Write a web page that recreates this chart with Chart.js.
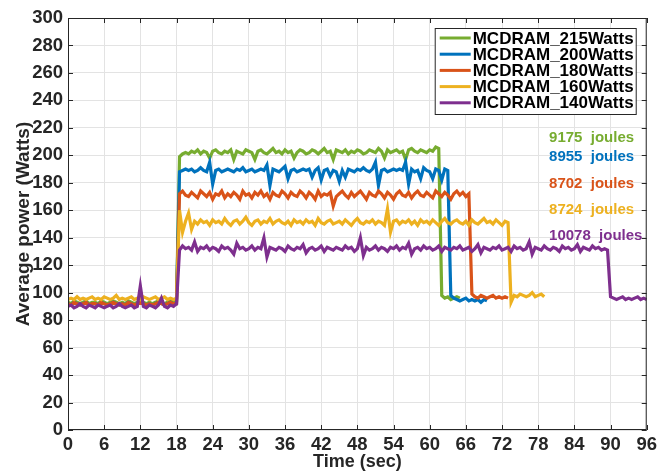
<!DOCTYPE html>
<html>
<head>
<meta charset="utf-8">
<script src="https://cdn.jsdelivr.net/npm/chart.js@4.4.1/dist/chart.umd.min.js"></script>
<style>
  html, body { margin: 0; padding: 0; background: #fff; }
</style>
</head>
<body>
<canvas id="c" width="661" height="474"></canvas>
<script>
// sampled power traces, one value every STEP seconds starting at t = 0
const STEP = 0.5;
const seriesNames = ['MCDRAM_215Watts', 'MCDRAM_200Watts', 'MCDRAM_180Watts', 'MCDRAM_160Watts', 'MCDRAM_140Watts'];
const seriesColors = ['#77AC30', '#0072BD', '#D95319', '#EDB120', '#7E2F8E'];

const watts215 = [
  93,92,94,93,92,93,94,92,93,93, 92,94,93,92,93,94,93,92,93,92,
  94,93,92,93,94,93,92,93,92,93, 94,93,92,93,94,93,94,
  199,201,202,
  201,203,202,204,201,203,202,198,203,204, 202,201,203,202,204,197,203,202,201,204,
  203,202,197,203,204,202,201,203,205,202, 203,201,204,202,203,198,202,204,203,201,
  202,204,203,201,203,205,202,203,197,204, 203,202,204,201,203,202,204,203,201,202,
  204,203,202,205,203,198,204,202,203,204, 202,203,197,204,205,203,202,204,203,202,
  204,203,206,205,
  98,96,97,95,96,97,96
];
const watts200 = [
  92,91,93,92,91,92,93,91,92,92, 91,93,92,91,92,93,92,91,92,91,
  93,92,91,92,93,92,91,92,91,92, 93,92,91,92,93,92,92,
  188,189,190,
  189,190,188,189,191,189,188,195,179,189, 190,188,189,190,189,188,190,189,191,188,
  189,190,188,189,190,189,193,178,190,189, 188,190,192,183,189,190,188,189,190,189,
  190,184,189,191,182,189,190,185,189,188, 181,189,184,190,189,188,190,189,191,189,
  188,190,195,178,189,190,188,189,190,189, 190,189,195,179,190,188,189,183,191,189,
  188,183,190,189,182,190,189,
  98,96,95,94,95,96,94,95,94,95,93,95,94
];
const watts180 = [
  92,91,93,92,91,92,93,91,92,92, 91,93,92,91,92,93,92,91,92,91,
  93,92,91,92,93,92,91,92,91,92, 93,92,91,92,93,92,92,
  172,174,171,
  170,173,171,169,174,172,170,173,168,172, 171,174,169,172,170,173,171,168,174,171,
  172,169,173,171,174,170,172,168,173,171, 170,174,172,169,173,171,170,174,172,169,
  173,171,168,174,170,172,171,173,163,170, 172,174,171,169,173,170,172,174,171,168,
  173,171,170,174,172,169,173,171,168,172, 174,171,170,173,169,172,174,171,170,173,
  171,169,174,172,170,173,171,168,172,174, 171,173,170,172,
  99,97,96,98,97,96,97,98,96,97,96,97,96
];
const watts160 = [
  95,96,95,97,95,96,95,96,97,95, 96,95,97,96,95,96,98,95,96,95,
  96,97,95,96,95,97,96,95,96,97, 95,96,97,95,96,95,96,
  160,144,152,
  158,146,152,150,153,151,152,149,153,151, 152,150,154,151,149,152,153,150,152,155,
  151,149,152,153,150,152,151,154,150,152, 153,151,150,152,149,153,151,152,150,153,
  151,152,149,154,151,150,152,153,150,151, 152,150,153,151,149,152,154,151,150,152,
  151,153,150,152,151,149,161,144,152,153, 150,152,151,153,150,152,149,153,151,152,
  150,153,151,149,152,154,151,150,152,153, 151,150,152,149,153,151,150,152,154,151,
  152,150,153,151,149,152,151,
  93,98,97,99,98,97,98,100,97,98,99,97
];
const watts140 = [
  90,91,89,90,92,90,89,91,90,89, 91,90,89,90,91,89,90,92,90,89,
  90,91,89,90,105,90,89,91,90,89, 91,96,90,89,91,90,92,
  131,134,132,
  133,131,137,130,133,132,134,131,133,132, 130,134,132,133,131,128,136,132,133,131,
  132,134,131,133,132,140,126,133,132,131, 133,132,130,134,132,131,133,132,135,129,
  132,133,131,132,134,130,133,132,131,133, 132,131,134,132,133,130,132,140,127,133,
  131,132,134,131,133,132,130,133,132,134, 131,133,132,136,128,132,133,131,134,132,
  133,131,132,134,130,133,132,131,133,132, 134,131,132,133,130,132,135,129,133,132,
  131,133,132,134,131,132,133,130,134,132, 133,131,132,137,128,133,132,131,134,132,
  131,133,132,130,134,132,133,131,132,135, 130,133,132,131,134,132,133,131,132,131,
  97,96,95,96,97,95,96,95,96,97,95,96,95
];
const allSeries = [watts215, watts200, watts180, watts160, watts140];

// energy labels, placed in data units
const joulesText = ['9175  joules', '8955  joules', '8702  joules', '8724  joules', '10078  joules'];
const joulesY = [213, 199, 179.5, 160.5, 141.5];
const joulesX = 79.8;

const xTicks = { min: 0, max: 96, step: 6 };
const yTicks = { min: 0, max: 300, step: 20 };

const TXT = '#262626';
const FONT = '"Liberation Sans", Arial, Helvetica, sans-serif';

function toPoints(arr) { return arr.map((v, i) => ({ x: i * STEP, y: v })); }

const datasets = allSeries.map((arr, k) => ({
  label: seriesNames[k],
  data: toPoints(arr),
  borderColor: seriesColors[k],
  backgroundColor: seriesColors[k],
  borderWidth: 3.2,
  pointRadius: 0,
  tension: 0,
  order: allSeries.length - 1 - k
}));

const framePlugin = {
  id: 'frame',
  afterDatasetsDraw(chart) {
    const { ctx, chartArea: a, scales: { x, y } } = chart;
    ctx.save();
    // joules annotations
    ctx.font = 'bold 15px ' + FONT;
    ctx.textAlign = 'left';
    ctx.textBaseline = 'middle';
    joulesText.forEach((t, k) => {
      ctx.fillStyle = seriesColors[k];
      ctx.fillText(t, x.getPixelForValue(joulesX), y.getPixelForValue(joulesY[k]));
    });
    // box and inward ticks
    ctx.strokeStyle = TXT;
    ctx.lineWidth = 1;
    ctx.strokeRect(a.left + 0.5, a.top + 0.5, a.width - 1, a.height - 1);
    const tl = 5;
    ctx.beginPath();
    x.ticks.forEach(t => {
      const px = Math.round(x.getPixelForValue(t.value)) + 0.5;
      ctx.moveTo(px, a.bottom); ctx.lineTo(px, a.bottom - tl);
      ctx.moveTo(px, a.top); ctx.lineTo(px, a.top + tl);
    });
    y.ticks.forEach(t => {
      const py = Math.round(y.getPixelForValue(t.value)) + 0.5;
      ctx.moveTo(a.left, py); ctx.lineTo(a.left + tl, py);
      ctx.moveTo(a.right, py); ctx.lineTo(a.right - tl, py);
    });
    ctx.stroke();
    // legend
    const bw = 201, bh = 86;
    const bx = a.right - 11 - bw, by = a.top + 10;
    ctx.fillStyle = '#fff';
    ctx.fillRect(bx, by, bw, bh);
    ctx.strokeRect(bx + 0.5, by + 0.5, bw, bh);
    ctx.font = 'bold 17px ' + FONT;
    seriesNames.forEach((name, k) => {
      const cy = by + 10 + k * 16.2;
      ctx.strokeStyle = seriesColors[k];
      ctx.lineWidth = 3;
      ctx.beginPath();
      ctx.moveTo(bx + 5, cy); ctx.lineTo(bx + 36, cy);
      ctx.stroke();
      ctx.fillStyle = '#000';
      ctx.fillText(name, bx + 38, cy + 1);
    });
    ctx.restore();
  }
};

new Chart(document.getElementById('c'), {
  type: 'line',
  data: { datasets },
  options: {
    responsive: false,
    animation: false,
    events: [],
    layout: { padding: { top: 18, right: 11, left: 0, bottom: 0 } },
    plugins: { legend: { display: false }, tooltip: { enabled: false } },
    scales: {
      x: {
        type: 'linear',
        min: xTicks.min, max: xTicks.max,
        afterFit: s => { s.height = 44; },
        grid: { color: '#e3e3e3', drawTicks: false },
        border: { display: false },
        ticks: { stepSize: xTicks.step, padding: 4, color: TXT, font: { family: FONT, size: 18.5, weight: 'bold' } },
        title: { display: true, text: 'Time (sec)', color: TXT, padding: { top: 0, bottom: 1 }, font: { family: FONT, size: 18, weight: 'bold' } }
      },
      y: {
        min: yTicks.min, max: yTicks.max,
        afterFit: s => { s.width = 68; },
        grid: { color: '#e3e3e3', drawTicks: false },
        border: { display: false },
        ticks: { stepSize: yTicks.step, padding: 5, color: TXT, font: { family: FONT, size: 18.5, weight: 'bold' } },
        title: { display: true, text: 'Average power (Watts)', color: TXT, padding: { top: 12, bottom: 0 }, font: { family: FONT, size: 19, weight: 'bold' } }
      }
    }
  },
  plugins: [framePlugin]
});
</script>
</body>
</html>
